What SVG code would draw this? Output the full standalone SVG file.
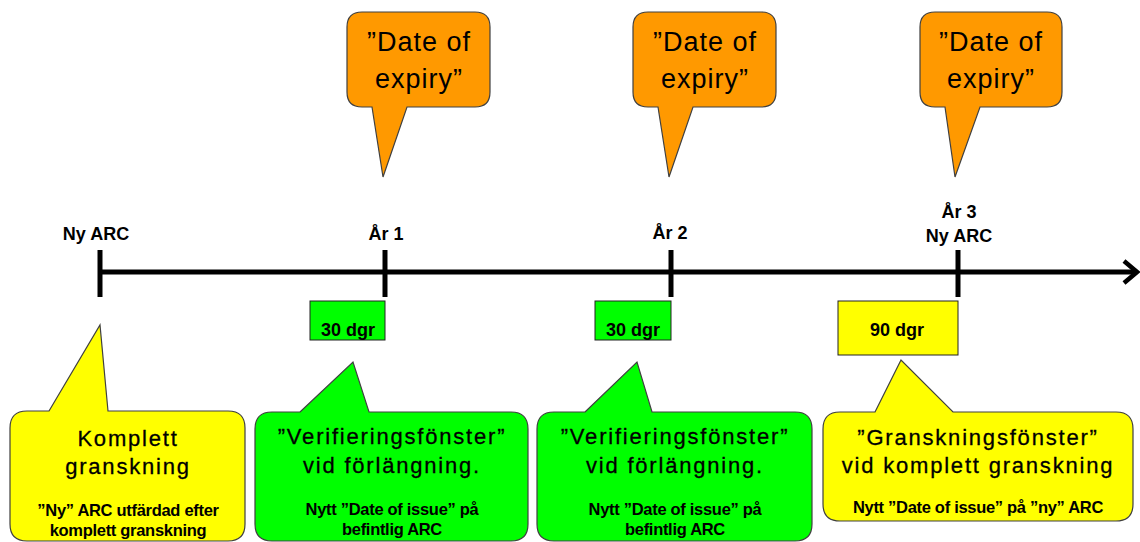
<svg xmlns="http://www.w3.org/2000/svg" width="1140" height="542" viewBox="0 0 1140 542">
<style>
.bub{stroke:#404040;stroke-width:1.2}
.or{fill:#FF9900}.ye{fill:#FFFF00}.gr{fill:#00FF00}
text{font-family:"Liberation Sans",Arial,sans-serif;fill:#000;text-anchor:middle}
.big{font-size:27px;letter-spacing:1px}
.mid{font-size:22px;letter-spacing:1.8px;stroke:#000;stroke-width:0.3}
.lab{font-size:18px;font-weight:bold}
.sm{font-size:16.5px;font-weight:bold;letter-spacing:-0.3px}
.box{stroke:#222;stroke-width:1}
</style>
<g id="connectors" stroke="#000" stroke-width="5" fill="none">
<line x1="100" y1="272" x2="1136" y2="272"/>
<polyline points="1124,261 1137,272 1124,283" stroke-width="4.5"/>
<line x1="100" y1="250" x2="100" y2="297"/>
<line x1="385" y1="250" x2="385" y2="297"/>
<line x1="671" y1="250" x2="671" y2="297"/>
<line x1="958" y1="250" x2="958" y2="297"/>
</g>
<g id="labels">
<text class="lab" x="96" y="240">Ny ARC</text>
<text class="lab" x="386" y="240">År 1</text>
<text class="lab" x="670" y="239">År 2</text>
<text class="lab" x="959" y="218">År 3</text>
<text class="lab" x="959" y="242">Ny ARC</text>
</g>
<g id="expiry1">
<path class="bub or" d="M362,12 H475 Q490,12 490,27 V92 Q490,107 475,107 H407 L383,177 L372,107 H362 Q347,107 347,92 V27 Q347,12 362,12 Z"/>
<text class="big" x="419" y="51">”Date of</text>
<text class="big" x="419" y="88">expiry”</text>
</g>
<g id="expiry2">
<path class="bub or" d="M648,12 H761 Q776,12 776,27 V92 Q776,107 761,107 H693 L669,177 L658,107 H648 Q633,107 633,92 V27 Q633,12 648,12 Z"/>
<text class="big" x="705" y="51">”Date of</text>
<text class="big" x="705" y="88">expiry”</text>
</g>
<g id="expiry3">
<path class="bub or" d="M935,12 H1047 Q1062,12 1062,27 V92 Q1062,107 1047,107 H980 L955,177 L945,107 H935 Q920,107 920,92 V27 Q920,12 935,12 Z"/>
<text class="big" x="991" y="51">”Date of</text>
<text class="big" x="991" y="88">expiry”</text>
</g>
<g id="win1">
<rect class="box gr" x="310" y="301" width="75" height="39"/>
<text class="lab" x="348" y="336">30 dgr</text>
</g>
<g id="win2">
<rect class="box gr" x="595" y="301" width="76" height="39"/>
<text class="lab" x="633" y="336">30 dgr</text>
</g>
<g id="win3">
<rect class="box ye" x="838" y="301" width="120" height="54"/>
<text class="lab" x="897" y="336">90 dgr</text>
</g>
<g id="komplett">
<path class="bub ye" d="M49,411 L100,325 L108,411 H228 Q245,411 245,428 V524 Q245,541 228,541 H27 Q10,541 10,524 V428 Q10,411 27,411 Z"/>
<text class="mid" x="128" y="446">Komplett</text>
<text class="mid" x="128" y="474">granskning</text>
<text class="sm" x="128" y="516">”Ny” ARC utfärdad efter</text>
<text class="sm" x="128" y="536">komplett granskning</text>
</g>
<g id="verif1">
<path class="bub gr" d="M300,412 L353,362 L369,412 H511 Q528,412 528,429 V524 Q528,541 511,541 H272 Q255,541 255,524 V429 Q255,412 272,412 Z"/>
<text class="mid" x="392" y="444">”Verifieringsfönster”</text>
<text class="mid" x="392" y="473">vid förlängning.</text>
<text class="sm" x="392" y="515">Nytt ”Date of issue” på</text>
<text class="sm" x="392" y="535">befintlig ARC</text>
</g>
<g id="verif2">
<path class="bub gr" d="M585,412 L637,362 L652,412 H795 Q812,412 812,429 V524 Q812,541 795,541 H554 Q537,541 537,524 V429 Q537,412 554,412 Z"/>
<text class="mid" x="675" y="444">”Verifieringsfönster”</text>
<text class="mid" x="675" y="473">vid förlängning.</text>
<text class="sm" x="675" y="515">Nytt ”Date of issue” på</text>
<text class="sm" x="675" y="535">befintlig ARC</text>
</g>
<g id="gransk">
<path class="bub ye" d="M875,412 L901,360 L953,412 H1116 Q1133,412 1133,429 V504 Q1133,521 1116,521 H840 Q823,521 823,504 V429 Q823,412 840,412 Z"/>
<text class="mid" x="978" y="445">”Granskningsfönster”</text>
<text class="mid" x="978" y="473">vid komplett granskning</text>
<text class="sm" x="978" y="513">Nytt ”Date of issue” på ”ny” ARC</text>
</g>
</svg>
